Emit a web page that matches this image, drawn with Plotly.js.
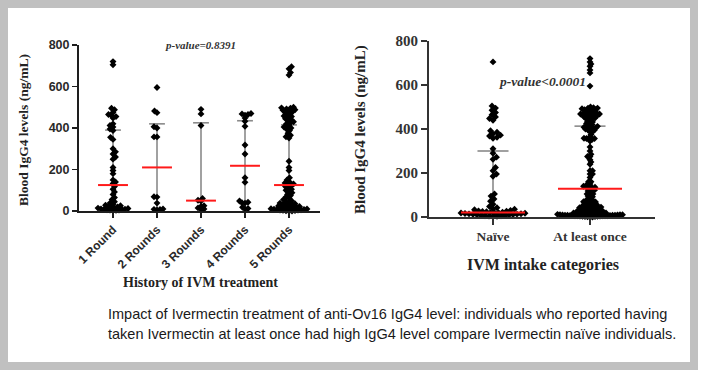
<!DOCTYPE html>
<html><head><meta charset="utf-8">
<script src="https://cdn.plot.ly/plotly-3.0.1.min.js"></script>
<style>body{margin:0;background:#fff}#chart{width:704px;height:377px}</style>
</head><body><div id="chart"></div>
<script>
// ---------- DATA ----------
const leftCategories = ['1 Round','2 Rounds','3 Rounds','4 Rounds','5 Rounds'];
const rightCategories = ['Naïve','At least once'];
const yTicks = [0,200,400,600,800];

const round1 = [720,705,495,488,475,465,460,455,448,420,412,405,395,388,355,345,300,285,275,260,250,210,195,180,150,140,132,
                118,105,92,80,65,55,45,38,32,28,25,22,20,18,15,14,12,10,9,8,7,6,5,4,3,2];
const round2 = [595,482,474,406,400,357,357,69,67,38,10,8,7,5];
const round3 = [490,468,412,60,52,48,25,22,15,10,8];
const round4 = [470,468,465,462,448,432,408,318,275,160,138,48,42,40,38,18,12,10];
const round5 = [695,685,668,655,500,497,495,492,488,485,482,478,475,468,462,458,455,450,445,440,435,430,425,420,
                412,405,400,395,388,375,365,358,352,240,210,195,160,150,140,135,130,128,
                122,118,112,105,100,95,88,80,75,68,62,55,50,45,42,38,35,32,30,28,26,24,22,20,18,16,15,14,12,11,10,9,8,7,6,5,4,3,2,1,0,0];
const naive = [705,505,495,485,475,465,455,448,440,392,385,378,372,368,362,358,
               310,290,272,262,225,210,195,185,105,95,82,72,58,48,42,38,
               35,33,30,28,26,25,24,22,21,20,19,18,17,16,15,14,13,12,11,10,9,8,7,6,5,4,3,2];

const leftMedian = [125,210,50,218,125];
const leftQ3 = [390,420,425,435,415];
const leftQ1 = [10,10,10,20,12];
const rightMedian = [20,128];
const rightQ3 = [300,413];
const rightQ1 = [10,12];

// ---------- helpers ----------
const W = 704, H = 377;
const px = v => v / W, py = v => 1 - v / H;

function swarm(vals, kY, d) {
  const order = vals.map((v, i) => i).sort((a, b) => vals[a] - vals[b]);
  const placed = [], off = new Array(vals.length);
  order.forEach((i, j) => {
    const y = vals[i] * kY;
    const near = placed.filter(p => Math.abs(p.y - y) < d);
    let best = 0;
    outer: for (let s = 0; s < 300; s += 0.5) {
      for (const sg of (j % 2 ? [1, -1] : [-1, 1])) {
        const x = s * sg;
        if (near.every(p => (p.x - x) ** 2 + (p.y - y) ** 2 >= d * d)) { best = x; break outer; }
      }
    }
    off[i] = best; placed.push({x: best, y});
  });
  return off;
}

// axis geometry (pixels)
const L = {x0: 79, x1: 320, c0: 113, step: 44, yTop: 45, yBot: 211};
const R = {x0: 429, x1: 655, c0: 493, step: 97, yTop: 41, yBot: 217};

const traces = [];
function addGroup(vals, cat, geo, xa, ya, d, size) {
  const kY = (geo.yBot - geo.yTop) / 800;
  const off = swarm(vals, kY, d);
  traces.push({type: 'scatter', mode: 'markers', xaxis: xa, yaxis: ya,
    x: vals.map((v, i) => cat + off[i] / geo.step), y: vals,
    marker: {symbol: 'diamond', size: size, color: '#000'}, cliponaxis: false,
    hoverinfo: 'y', showlegend: false});
}
function statLines(med, q1, q3, xa, ya, medHalf, capHalf) {
  const vx = [], vy = [], cx = [], cy = [], mx = [], my = [];
  med.forEach((m, i) => {
    vx.push(i, i, null); vy.push(q1[i], q3[i], null);
    cx.push(i - capHalf, i + capHalf, null); cy.push(q3[i], q3[i], null);
    mx.push(i - medHalf, i + medHalf, null); my.push(m, m, null);
  });
  return {
    under: {type: 'scatter', mode: 'lines', xaxis: xa, yaxis: ya, x: vx.concat(cx), y: vy.concat(cy),
      line: {color: '#8a8a8a', width: 1.6}, hoverinfo: 'skip', showlegend: false, cliponaxis: false},
    over: {type: 'scatter', mode: 'lines', xaxis: xa, yaxis: ya, x: mx, y: my,
      line: {color: '#ff1a1a', width: 2}, hoverinfo: 'skip', showlegend: false, cliponaxis: false}
  };
}

const sl = statLines(leftMedian, leftQ1, leftQ3, 'x', 'y', 0.34, 0.18);
const sr = statLines(rightMedian, rightQ1, rightQ3, 'x2', 'y2', 0.33, 0.16);
traces.push(sl.under, sr.under);
[round1, round2, round3, round4, round5].forEach((g, i) => addGroup(g, i, L, 'x', 'y', 2.9, 5.3));
const atLeastOnce = [].concat(round1, round2, round3, round4, round5);
addGroup(naive, 0, R, 'x2', 'y2', 3.9, 5.3);
addGroup(atLeastOnce, 1, R, 'x2', 'y2', 2.3, 5.3);
traces.push(sl.over, sr.over);

const sans = 'Liberation Sans, Arial, sans-serif';
const serif = 'Liberation Serif, Times New Roman, serif';

const axisCommon = {showline: true, showgrid: false, zeroline: false, ticks: 'outside',
  ticklen: 5, tickwidth: 1.5, fixedrange: true};

const layout = {
  width: W, height: H, margin: {l: 0, r: 0, t: 0, b: 0},
  paper_bgcolor: '#fff', plot_bgcolor: 'rgba(0,0,0,0)', showlegend: false,
  xaxis: Object.assign({}, axisCommon, {domain: [px(L.x0), px(L.x1)],
    range: [(L.x0 - L.c0) / L.step, (L.x1 - L.c0) / L.step], anchor: 'y',
    tickvals: [0,1,2,3,4], ticktext: leftCategories, tickangle: -45,
    linecolor: '#1e1e1e', linewidth: 2, tickcolor: '#1e1e1e',
    tickfont: {family: sans, size: 12, weight: 'bold', color: '#2a2a2a'}}),
  yaxis: Object.assign({}, axisCommon, {domain: [py(L.yBot), py(L.yTop)], range: [0, 800], anchor: 'x',
    tickvals: yTicks, linecolor: '#1e1e1e', linewidth: 2, tickcolor: '#1e1e1e',
    tickfont: {family: sans, size: 12.5, weight: 'bold', color: '#2a2a2a'}}),
  xaxis2: Object.assign({}, axisCommon, {domain: [px(R.x0), px(R.x1)],
    range: [(R.x0 - R.c0) / R.step, (R.x1 - R.c0) / R.step], anchor: 'y2',
    tickvals: [0,1], ticktext: rightCategories, ticklen: 6,
    linecolor: '#333', linewidth: 2, tickcolor: '#333',
    tickfont: {family: serif, size: 13.5, weight: 'bold', color: '#333'}}),
  yaxis2: Object.assign({}, axisCommon, {domain: [py(R.yBot), py(R.yTop)], range: [0, 800], anchor: 'x2',
    tickvals: yTicks, linecolor: '#333', linewidth: 2, tickcolor: '#333', ticklen: 6,
    tickfont: {family: serif, size: 15, weight: 'bold', color: '#333'}}),
  shapes: [{type: 'rect', xref: 'paper', yref: 'paper', x0: px(4), x1: px(694), y0: py(366), y1: py(4),
    line: {color: '#c0c0c0', width: 8}, fillcolor: 'rgba(0,0,0,0)', layer: 'below'}],
  annotations: [
    {text: 'Blood IgG4 levels (ng/mL)', x: px(23), y: py(130), textangle: -90,
     font: {family: serif, size: 13.5, weight: 'bold', color: '#222'}},
    {text: 'History of IVM treatment', x: px(200), y: py(282),
     font: {family: serif, size: 14, weight: 'bold', color: '#222'}},
    {text: '<i>p-value=0.8391</i>', x: px(200), y: py(45),
     font: {family: serif, size: 11, weight: 'bold', color: '#333'}},
    {text: 'Blood IgG4 levels (ng/mL)', x: px(360), y: py(130), textangle: -90,
     font: {family: serif, size: 15, weight: 'bold', color: '#222'}},
    {text: 'IVM intake categories', x: px(543), y: py(265),
     font: {family: serif, size: 16, weight: 'bold', color: '#222'}},
    {text: '<i>p-value&lt;0.0001</i>', x: px(542), y: py(82),
     font: {family: serif, size: 13.5, weight: 'bold', color: '#333'}},
    {text: 'Impact of Ivermectin treatment of anti-Ov16 IgG4 level: individuals who reported having',
     x: px(106), y: py(314), xanchor: 'left', font: {family: sans, size: 14.5, color: '#1a1a1a'}},
    {text: 'taken Ivermectin at least once had high IgG4 level compare Ivermectin naïve individuals.',
     x: px(106), y: py(334), xanchor: 'left', font: {family: sans, size: 14.5, color: '#1a1a1a'}}
  ].map(a => Object.assign({xref: 'paper', yref: 'paper', showarrow: false, xanchor: 'center', yanchor: 'middle'}, a))
};

Plotly.newPlot('chart', traces, layout, {displayModeBar: false, staticPlot: true});
</script></body></html>
